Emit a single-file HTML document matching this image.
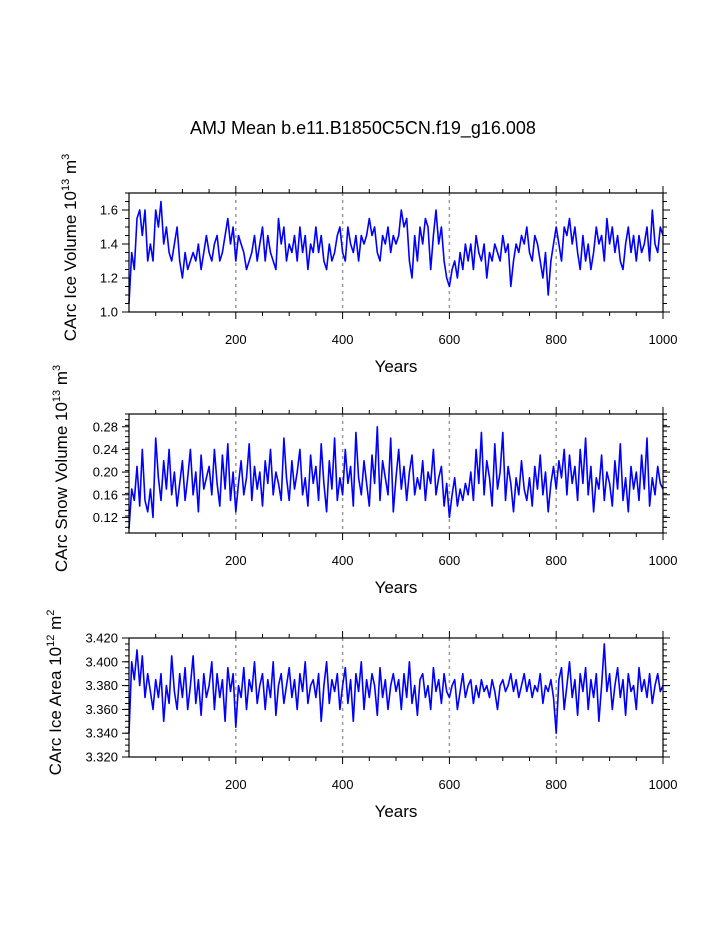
<!DOCTYPE html>
<html><head><meta charset="utf-8"><style>
html,body{margin:0;padding:0;background:#fff;}
svg{display:block;font-family:"Liberation Sans",sans-serif;}
</style></head><body>
<svg id="chart" width="723" height="935" xmlns="http://www.w3.org/2000/svg">
<text x="363" y="134" text-anchor="middle" font-size="18">AMJ Mean b.e11.B1850C5CN.f19_g16.008</text>
</svg>
<script>
const iceVolume=[1.05,1.35,1.25,1.55,1.6,1.45,1.6,1.3,1.4,1.3,
1.6,1.5,1.65,1.4,1.5,1.35,1.3,1.4,1.5,1.3,
1.2,1.35,1.25,1.3,1.35,1.3,1.4,1.25,1.35,1.45,
1.35,1.3,1.4,1.45,1.3,1.35,1.45,1.55,1.4,1.5,
1.3,1.45,1.4,1.35,1.25,1.3,1.35,1.45,1.3,1.4,
1.5,1.3,1.45,1.35,1.3,1.25,1.55,1.4,1.5,1.3,
1.4,1.35,1.45,1.3,1.5,1.35,1.45,1.25,1.4,1.35,
1.5,1.35,1.45,1.3,1.25,1.4,1.3,1.35,1.45,1.5,
1.35,1.3,1.5,1.4,1.35,1.45,1.3,1.45,1.4,1.45,
1.55,1.45,1.5,1.35,1.3,1.45,1.4,1.5,1.35,1.45,
1.4,1.45,1.6,1.5,1.55,1.3,1.2,1.45,1.3,1.5,
1.4,1.55,1.5,1.25,1.45,1.6,1.4,1.5,1.3,1.2,
1.15,1.25,1.3,1.2,1.35,1.25,1.4,1.3,1.4,1.25,
1.45,1.35,1.3,1.4,1.2,1.35,1.3,1.4,1.35,1.3,
1.45,1.35,1.4,1.15,1.3,1.4,1.35,1.45,1.4,1.5,
1.35,1.3,1.45,1.4,1.3,1.2,1.35,1.1,1.3,1.4,
1.5,1.4,1.3,1.5,1.45,1.55,1.4,1.5,1.35,1.25,
1.45,1.3,1.4,1.25,1.35,1.5,1.4,1.45,1.3,1.55,
1.4,1.5,1.35,1.45,1.3,1.25,1.4,1.5,1.35,1.45,
1.3,1.45,1.35,1.4,1.5,1.3,1.6,1.4,1.35,1.5,1.45];
const snowVolume=[0.10,0.17,0.15,0.21,0.14,0.24,0.15,0.13,0.17,0.12,
0.26,0.19,0.15,0.22,0.17,0.24,0.16,0.20,0.14,0.18,
0.22,0.15,0.19,0.24,0.16,0.20,0.13,0.23,0.17,0.19,
0.21,0.16,0.24,0.18,0.14,0.23,0.17,0.25,0.15,0.20,
0.13,0.18,0.22,0.16,0.19,0.25,0.15,0.21,0.17,0.20,
0.14,0.22,0.18,0.24,0.16,0.20,0.18,0.15,0.26,0.19,
0.15,0.22,0.17,0.20,0.24,0.16,0.19,0.14,0.23,0.18,
0.21,0.15,0.25,0.18,0.13,0.22,0.17,0.26,0.15,0.19,
0.16,0.24,0.18,0.21,0.14,0.27,0.19,0.16,0.22,0.18,
0.14,0.23,0.18,0.28,0.15,0.22,0.19,0.16,0.26,0.13,
0.19,0.24,0.17,0.21,0.15,0.20,0.23,0.16,0.19,0.17,
0.22,0.15,0.20,0.18,0.24,0.16,0.19,0.21,0.14,0.18,
0.12,0.16,0.19,0.14,0.17,0.15,0.18,0.16,0.20,0.15,
0.24,0.18,0.27,0.16,0.22,0.19,0.14,0.25,0.17,0.20,
0.27,0.15,0.21,0.18,0.13,0.19,0.16,0.22,0.17,0.15,
0.19,0.14,0.21,0.17,0.23,0.16,0.20,0.13,0.18,0.21,
0.17,0.22,0.19,0.24,0.16,0.23,0.18,0.21,0.15,0.24,
0.18,0.26,0.16,0.21,0.13,0.19,0.17,0.23,0.15,0.20,
0.18,0.14,0.22,0.17,0.25,0.15,0.19,0.13,0.21,0.17,
0.20,0.15,0.23,0.17,0.26,0.14,0.19,0.16,0.21,0.18,0.17];
const iceArea=[3.34,3.40,3.385,3.41,3.38,3.405,3.37,3.39,3.375,3.36,
3.385,3.37,3.39,3.35,3.38,3.365,3.405,3.375,3.36,3.39,
3.37,3.395,3.36,3.38,3.405,3.365,3.385,3.355,3.39,3.37,
3.38,3.40,3.36,3.39,3.37,3.385,3.35,3.395,3.375,3.39,
3.345,3.38,3.37,3.395,3.36,3.385,3.375,3.40,3.365,3.38,
3.39,3.36,3.385,3.37,3.40,3.355,3.38,3.39,3.365,3.38,
3.395,3.37,3.385,3.36,3.39,3.375,3.40,3.365,3.38,3.385,
3.37,3.39,3.35,3.38,3.40,3.365,3.385,3.375,3.39,3.36,
3.38,3.395,3.365,3.385,3.35,3.39,3.375,3.40,3.36,3.385,
3.37,3.39,3.38,3.355,3.395,3.37,3.385,3.36,3.38,3.39,
3.375,3.385,3.36,3.39,3.37,3.40,3.365,3.38,3.355,3.385,
3.39,3.37,3.38,3.36,3.395,3.375,3.385,3.365,3.39,3.375,
3.37,3.38,3.385,3.36,3.375,3.39,3.37,3.38,3.385,3.365,
3.38,3.37,3.385,3.375,3.38,3.37,3.385,3.375,3.36,3.38,
3.385,3.375,3.38,3.39,3.375,3.385,3.37,3.38,3.39,3.375,
3.385,3.37,3.38,3.375,3.39,3.365,3.38,3.375,3.385,3.37,
3.34,3.385,3.395,3.36,3.38,3.40,3.37,3.385,3.355,3.39,
3.375,3.395,3.36,3.385,3.37,3.39,3.35,3.38,3.415,3.375,
3.39,3.36,3.38,3.395,3.37,3.385,3.355,3.39,3.375,3.38,
3.36,3.395,3.375,3.385,3.37,3.39,3.365,3.38,3.39,3.375,3.38];
const yearStep=5;
const xTicks=[200,400,600,800,1000];
const ticks1=[1.0,1.2,1.4,1.6], ticks1Labels=["1.0","1.2","1.4","1.6"];
const ticks2=[0.12,0.16,0.20,0.24,0.28], ticks2Labels=["0.12","0.16","0.20","0.24","0.28"];
const ticks3=[3.32,3.34,3.36,3.38,3.40,3.42], ticks3Labels=["3.320","3.340","3.360","3.380","3.400","3.420"];

const NS="http://www.w3.org/2000/svg";
const svg=document.getElementById('chart');
function mk(tag,attrs,parent){const e=document.createElementNS(NS,tag);for(const k in attrs)e.setAttribute(k,attrs[k]);(parent||svg).appendChild(e);return e;}

function panel(cfg){
  const L=129,R=663,T=cfg.top,B=cfg.top+119;
  const g=mk('g',{});
  
  
  const xs=v=>L+(v/1000)*(R-L);
  const ys=v=>B-(v-cfg.ymin)/(cfg.ymax-cfg.ymin)*(B-T);
  // grid
  for(const t of [200,400,600,800]){
    const l=mk('line',{x1:xs(t),x2:xs(t),y1:T,y2:B,stroke:'#999','stroke-width':1.5,'stroke-dasharray':'3,4'},g);
    
    
  }
  // series
  let d='';
  cfg.data.forEach((v,i)=>{d+=(i?'L':'M')+xs(i*yearStep).toFixed(1)+','+ys(v).toFixed(1);});
  const p=mk('path',{d:d,fill:'none',stroke:'#0000ff','stroke-width':1.6,'stroke-linejoin':'round'},g);
  
  
  // frame
  const f=mk('rect',{x:L,y:T,width:R-L,height:B-T,fill:'none',stroke:'#000','stroke-width':1.2},g);
  
  
  // x ticks
  for(let t=50;t<=1000;t+=50){
    const maj=t%200===0, len=maj?7:4;
    mk('line',{x1:xs(t),x2:xs(t),y1:B,y2:B+len,stroke:'#000','stroke-width':1},g);
    mk('line',{x1:xs(t),x2:xs(t),y1:T,y2:T-len,stroke:'#000','stroke-width':1},g);
  }
  xTicks.forEach(t=>{
    const tx=mk('text',{x:xs(t),y:B+32,'text-anchor':'middle','font-size':13},g);
    tx.textContent=String(t);
    
    
  });
  const xt=mk('text',{x:(L+R)/2,y:B+60,'text-anchor':'middle','font-size':17},g);
  xt.textContent='Years';
  
  
  // y minor ticks
  for(let v=cfg.ymin;v<=cfg.ymax+1e-9;v+=cfg.minor){
    mk('line',{x1:L,x2:L-4,y1:ys(v),y2:ys(v),stroke:'#000','stroke-width':1},g);
    mk('line',{x1:R,x2:R+4,y1:ys(v),y2:ys(v),stroke:'#000','stroke-width':1},g);
  }
  cfg.ticks.forEach((v,i)=>{
    mk('line',{x1:L,x2:L-7,y1:ys(v),y2:ys(v),stroke:'#000','stroke-width':1},g);
    mk('line',{x1:R,x2:R+7,y1:ys(v),y2:ys(v),stroke:'#000','stroke-width':1},g);
    const tx=mk('text',{x:L-11,y:ys(v)+4.5,'text-anchor':'end','font-size':13},g);
    tx.textContent=cfg.labels[i];
    
    
  });
  const cy=(T+B)/2+cfg.titleShift;
  const yt=mk('text',{x:0,y:0,'text-anchor':'middle','font-size':17,transform:`translate(${cfg.titleX},${cy}) rotate(-90)`},g);
  yt.innerHTML=cfg.title+' 10<tspan dy="-7" font-size="11">'+cfg.exp+'</tspan><tspan dy="7"> m</tspan><tspan dy="-7" font-size="11">'+cfg.unitExp+'</tspan>';
  
  
}
panel({name:'ice-volume-panel',top:193,ymin:1.0,ymax:1.7,minor:0.05,ticks:ticks1,labels:ticks1Labels,data:iceVolume,title:'CArc Ice Volume',exp:'13',unitExp:'3',titleX:76,titleShift:-5});
panel({name:'snow-volume-panel',top:414,ymin:0.0925,ymax:0.3025,minor:0.01,ticks:ticks2,labels:ticks2Labels,data:snowVolume,title:'CArc Snow Volume',exp:'13',unitExp:'3',titleX:67,titleShift:-5});
panel({name:'ice-area-panel',top:638,ymin:3.32,ymax:3.42,minor:0.005,ticks:ticks3,labels:ticks3Labels,data:iceArea,title:'CArc Ice Area',exp:'12',unitExp:'2',titleX:61,titleShift:-5});
</script>
</body></html>
